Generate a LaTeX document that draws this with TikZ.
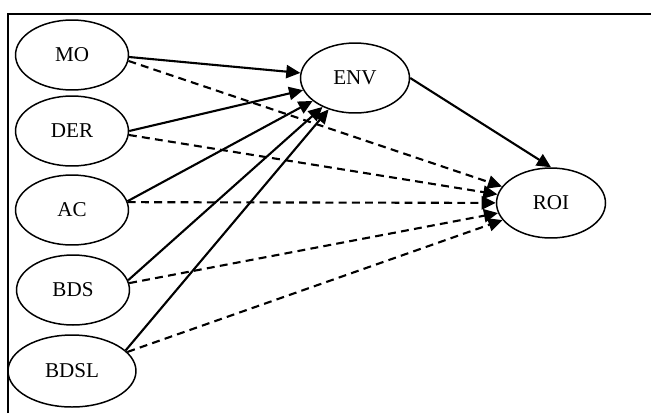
\documentclass[tikz,border=0pt]{standalone}
\usepackage{fontspec}
\setmainfont{Liberation Serif}
\usetikzlibrary{shapes.geometric}
\usetikzlibrary{arrows.meta}

\begin{document}
\begin{tikzpicture}[x=0.02cm, y=-0.02cm,
  var/.style={draw, ellipse, line width=0.85pt, inner sep=0pt,
    minimum width=2.26cm, minimum height=1.4cm,
    font=\fontsize{12}{14}\selectfont},
  path/.style={->, line width=1.2pt},
  indirect/.style={->, line width=1.2pt, dash pattern=on 4.5pt off 3pt},
  >={Triangle[length=8pt, width=7.5pt]}]

\useasboundingbox (0,0) rectangle (651,413);
\draw[line width=1.3pt] (8,413) -- (8,14) -- (651,14);

\node[var] (mo) at (72,55) {MO};
\node[var] (der) at (72,131) {DER};
\node[var] (ac) at (72,210) {AC};
\node[var] (bds) at (73,290) {BDS};
\node[var, minimum width=2.56cm, minimum height=1.44cm] (bdsl) at (72,371) {BDSL};
\node[var, minimum width=2.18cm] (env) at (355,78) {ENV};
\node[var, minimum width=2.18cm] (roi) at (551,203) {ROI};

\draw[path] (mo.-2) -- (env);
\draw[path] (der.0) -- (env);
\draw[path] (ac.9) -- (env);
\draw[path] (bds.10) -- (env);
\draw[path] (bdsl.21) -- (env);

\draw[indirect] (mo.-6) -- (roi);
\draw[indirect] (der.-4) -- (roi);
\draw[indirect] (ac.8) -- (roi);
\draw[indirect] (bds.7) -- (roi);
\draw[indirect] (bdsl.19) -- (roi);

\draw[path] (env.east) -- (roi.north);
\end{tikzpicture}
\end{document}
